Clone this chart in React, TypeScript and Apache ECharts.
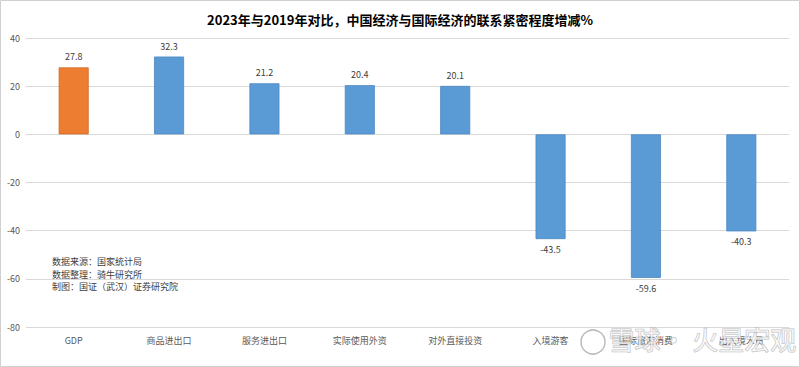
import React, { useEffect, useRef } from "react";
import * as echarts from "echarts";

const categories = ["GDP", "商品进出口", "服务进出口", "实际使用外资", "对外直接投资", "入境游客", "国际旅游消费", "出入境人员"];
const values = [27.8, 32.3, 21.2, 20.4, 20.1, -43.5, -59.6, -40.3];
const barColors = ["#ED7D31", "#5B9BD5", "#5B9BD5", "#5B9BD5", "#5B9BD5", "#5B9BD5", "#5B9BD5", "#5B9BD5"];
const notes = ["数据来源：国家统计局", "数据整理：骑牛研究所", "制图：国证（武汉）证券研究院"];
const title = "2023年与2019年对比，中国经济与国际经济的联系紧密程度增减%";

export default function App() {
  const ref = useRef<HTMLDivElement>(null);
  useEffect(() => {
    const chart = echarts.init(ref.current!, null, { renderer: "svg" });
    const font = "'Noto Sans CJK SC', 'Microsoft YaHei', sans-serif";
    chart.setOption({
      animation: false,
      backgroundColor: "#ffffff",
      title: {
        text: title,
        left: "center",
        top: 8,
        textStyle: { fontSize: 13, fontWeight: "bold", color: "#000", fontFamily: font },
      },
      grid: { left: 26, right: 11, top: 38, bottom: 40, containLabel: false },
      xAxis: {
        type: "category",
        data: categories,
        position: "bottom",
        axisLine: { show: false, onZero: false },
        axisTick: { show: false },
        axisLabel: { color: "#595959", fontSize: 9, fontFamily: font, margin: 9, interval: 0 },
      },
      yAxis: {
        type: "value",
        min: -80,
        max: 40,
        interval: 20,
        axisLine: { show: false },
        axisTick: { show: false },
        axisLabel: { color: "#595959", fontSize: 9, fontFamily: font, margin: 6 },
        splitLine: { lineStyle: { color: "#d9d9d9", width: 1 } },
      },
      series: [
        {
          type: "bar",
          barWidth: 30,
          data: values.map((v, i) => ({
            value: v,
            itemStyle: { color: barColors[i], borderColor: i === 0 ? "#d06a22" : "#4a88c2", borderWidth: 0.8 },
            label: { position: v >= 0 ? "top" : "bottom" },
          })),
          label: {
            show: true,
            color: "#404040",
            fontSize: 9,
            fontFamily: font,
            distance: 6,
          },
        },
      ],
      graphic: [
        {
          type: "rect",
          shape: { x: 0.5, y: 0.5, width: 799, height: 366 },
          style: { fill: "none", stroke: "#d0d0d0", lineWidth: 1 },
          silent: true,
        },
        ...notes.map((t, i) => ({
          type: "text",
          left: 52,
          top: 257 + i * 12.5,
          style: { text: t, fontSize: 9, fill: "#404040", fontFamily: font },
        })),
        {
          type: "text",
          left: 608,
          top: 325,
          style: {
            text: "雪球· 火星宏观",
            fontSize: 26,
            fill: "rgba(255,255,255,0.6)",
            stroke: "rgba(160,160,160,0.7)",
            lineWidth: 1,
            fontFamily: font,
          },
          z: 100,
        },
        {
          type: "circle",
          shape: { cx: 593, cy: 342, r: 12 },
          style: { fill: "rgba(255,255,255,0.4)", stroke: "rgba(160,160,160,0.7)", lineWidth: 1.5 },
          z: 100,
        },
      ],
    });
    return () => chart.dispose();
  }, []);
  return <div ref={ref} style={{ position: "fixed", left: 0, top: 0, width: 800, height: 367 }} />;
}
